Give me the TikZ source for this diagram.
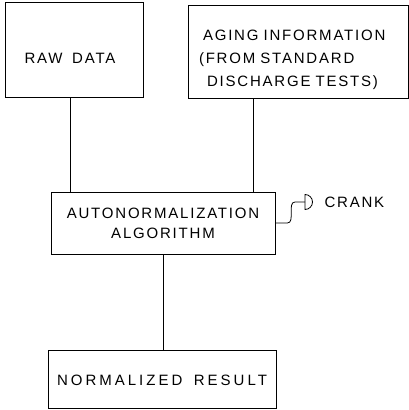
\documentclass[tikz,border=0pt]{standalone}
\usepackage{fontspec}
\setmainfont{Liberation Sans}[LetterSpace=12,WordSpace=1.6]
\usepackage{tikz}
\usetikzlibrary{positioning}

\begin{document}
\begin{tikzpicture} [
                x=1pt, y=1pt,
                box/.style = {draw,line width=0.8pt,inner sep=0pt,align=center,
                              font=\fontsize{15}{23}\selectfont},
                edge/.style = {draw,line width=0.8pt,-},
                label/.style = {font=\fontsize{15}{23}\selectfont,anchor=west}
            ]
        \useasboundingbox (0,0) rectangle (409,410);
        % First we draw the boxes
            \node[box,minimum width=138,minimum height=95,text height=28pt] (raw) at (74,360)
                {RAW DATA\hspace*{8pt}};
            \node[box,minimum width=220,minimum height=93,align=left,text width=198,
                  inner xsep=11] (aging) at (298,358.5)
                {\rule{0pt}{27pt}\hspace*{4pt}AGING INFORMATION\\(FROM STANDARD\\\hspace*{8pt}DISCHARGE TESTS)};
            \node[box,minimum width=224,minimum height=62,
                  font=\fontsize{15}{20}\selectfont] (alg) at (163,187)
                {AUTONORMALIZATION\\ALGORITHM};
            \node[box,minimum width=228,minimum height=58,text height=14pt] (norm) at (162,31)
                {\addfontfeature{LetterSpace=20}NORMALIZED RESULT};
        % Connect boxes with lines
            \foreach \source/\shift in {raw/-4, aging/-45}
            \path[edge] ([xshift=\shift pt]\source.south) -- ([xshift=\shift pt]\source.south |- alg.north);
            \path[edge] (alg.south) -- (alg.south |- norm.north);
        % the crank
            \coordinate (crank) at (305,208);
            \path[edge] (alg.east) -- ++(12,0) .. controls +(8,0) and +(-8,0) .. ([xshift=-10pt]crank) -- (crank);
            \path[edge] (crank) ++(0,7.5) arc[start angle=90,end angle=-90,radius=7.5] -- cycle;
            \node[label] (cranklabel) at (321,208) {CRANK};
        \end{tikzpicture}
\end{document}
